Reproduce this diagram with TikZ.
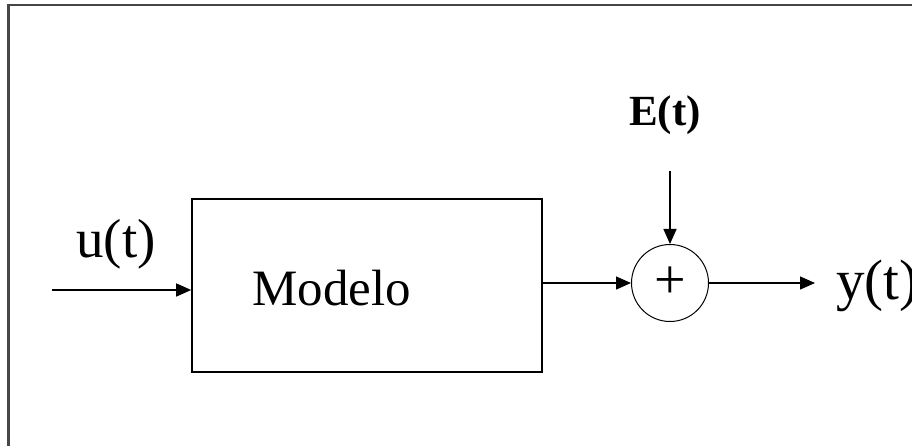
\documentclass[tikz,border=0pt]{standalone}
\usepackage{fontspec}
\setmainfont{Liberation Serif}
\usepackage{tikz}
\usetikzlibrary{arrows.meta}

\begin{document}
\begin{tikzpicture}[x=1pt,y=-1pt,
    flecha/.style={-{Triangle[length=15pt,width=13pt]},line width=1.4pt},
    rotulo/.style={inner sep=0pt,anchor=base west}]
            \useasboundingbox (0,0) rectangle (912,446);
            % marco
            \draw[line width=2.2pt,black!72] (8.5,446) -- (8.5,5) -- (912,5);

            \node (modelo) at (367,285.5) [draw,line width=1.6pt,minimum width=350pt,minimum height=173pt] {};
            \node (textoModelo) at (252,305) [rotulo,font=\fontsize{51}{51}\selectfont] {Modelo};
            \node (sumador) at (670,283) [shape=circle,draw,line width=1pt,minimum size=77pt,inner sep=0pt,font=\fontsize{56}{56}\selectfont] {+};

            \node (entrada) at (76,258) [rotulo,font=\fontsize{55}{55}\selectfont] {u(t)};
            \node (salida) at (836,299) [rotulo,font=\fontsize{57}{57}\selectfont] {y(t)};
            \node (ruido) at (629,126) [rotulo,font=\fontsize{43}{43}\selectfont\bfseries] {E(t)};

            \coordinate (inicioU) at (52,290);
            \coordinate (inicioE) at (670,171);
            \coordinate (finY) at (815,283);
            \draw[flecha] (inicioU) -- (modelo.west |- inicioU);
            \draw[flecha] (modelo.east |- sumador) -- (sumador.west);
            \draw[flecha] (inicioE) -- (sumador.north);
            \draw[flecha] (sumador.east) -- (finY);
\end{tikzpicture}
\end{document}
